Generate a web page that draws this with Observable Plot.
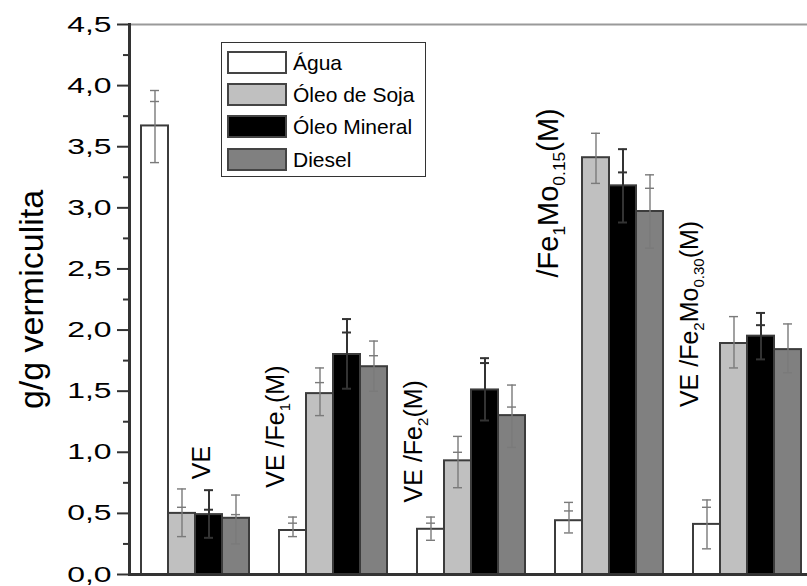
<!DOCTYPE html>
<html><head><meta charset="utf-8">
<script src="https://cdn.jsdelivr.net/npm/d3@7"></script>
<script src="https://cdn.jsdelivr.net/npm/@observablehq/plot@0.6"></script>
<style>
body{margin:0;background:#fff;}
#wrap{position:relative;width:807px;height:586px;overflow:hidden;font-family:"Liberation Sans",Arial,sans-serif;}
#legend{position:absolute;left:221px;top:42px;width:205px;height:135px;border:1px solid #333;background:#fff;box-sizing:border-box;}
.row{position:absolute;left:5px;height:23px;width:195px;}
.sw{position:absolute;left:0;top:0;width:60px;height:23px;border:2px solid #444;box-sizing:border-box;}
.lt{position:absolute;left:66px;top:-2px;font-size:21px;line-height:27px;white-space:nowrap;color:#000;}
</style></head><body><div id="wrap"></div>
<script>
const series = ["Água", "Óleo de Soja", "Óleo Mineral", "Diesel"];
const groups = ["VE", "VE/Fe1(M)", "VE/Fe2(M)", "VE/Fe1Mo0.15(M)", "VE/Fe2Mo0.30(M)"];
const groupLabels = ["VE", "VE /Fe{1}(M)", "VE /Fe{2}(M)", "/Fe{1}Mo{0.15}(M)", "VE /Fe{2}Mo{0.30}(M)"];
const labelStart = [0.78, 0.71, 0.59, 2.43, 1.37];

const aguaMean  = [3.67, 0.36, 0.37, 0.44, 0.41];
const aguaHigh  = [3.96, 0.47, 0.47, 0.59, 0.61];
const aguaLow   = [3.37, 0.31, 0.28, 0.34, 0.21];
const aguaInner = [3.87, 0.42, 0.42, 0.52, 0.55];

const sojaMean  = [0.50, 1.48, 0.93, 3.41, 1.89];
const sojaHigh  = [0.70, 1.69, 1.13, 3.61, 2.11];
const sojaLow   = [0.31, 1.30, 0.71, 3.20, 1.69];
const sojaInner = [0.55, 1.57, 1.00, null, null];

const mineralMean  = [0.49, 1.80, 1.51, 3.18, 1.95];
const mineralHigh  = [0.69, 2.09, 1.77, 3.48, 2.14];
const mineralLow   = [0.30, 1.52, 1.26, 2.88, 1.76];
const mineralInner = [0.53, 1.98, 1.73, 3.29, 2.04];

const dieselMean  = [0.46, 1.70, 1.30, 2.97, 1.84];
const dieselHigh  = [0.65, 1.91, 1.55, 3.27, 2.05];
const dieselLow   = [0.25, 1.50, 1.04, 2.67, 1.65];
const dieselInner = [0.49, 1.79, 1.37, 3.16, null];

const majorTicks = [0, 0.5, 1, 1.5, 2, 2.5, 3, 3.5, 4, 4.5];
const minorTicks = [0.25, 0.75, 1.25, 1.75, 2.25, 2.75, 3.25, 3.75, 4.25];
const yTitle = "g/g vermiculita";

const colors = ["#ffffff", "#c0c0c0", "#000000", "#808080"];

const meanArr = [aguaMean, sojaMean, mineralMean, dieselMean];
const highArr = [aguaHigh, sojaHigh, mineralHigh, dieselHigh];
const lowArr = [aguaLow, sojaLow, mineralLow, dieselLow];
const innerArr = [aguaInner, sojaInner, mineralInner, dieselInner];

const rows = [];
series.forEach((s, si) => groups.forEach((g, gi) => rows.push({
  group: g, series: s, value: meanArr[si][gi], hi: highArr[si][gi], lo: lowArr[si][gi], inner: innerArr[si][gi]
})));
const innerRows = rows.filter(d => d.inner != null);
const labels = groups.map((g, i) => ({group: g, text: groupLabels[i], y: labelStart[i]}));
const errColor = d => d.series === "Óleo Mineral" ? "#333333" : "#7a7a7a";
const errWidth = d => d.series === "Óleo Mineral" ? 2 : 1.4;

const chart = Plot.plot({
  width: 807, height: 586,
  marginLeft: 128, marginRight: -13.5, marginTop: 24, marginBottom: 12,
  style: {fontFamily: "Liberation Sans, Arial, sans-serif", background: "#fff", color: "#000"},
  fx: {domain: groups, padding: 0, axis: null, label: null},
  x: {domain: series, paddingInner: 0, paddingOuter: 0.49, align: 0.4, axis: null},
  y: {domain: [0, 4.5], axis: null},
  color: {domain: series, range: colors},
  marks: [
    Plot.ruleY([4.5], {stroke: "#9a9a9a", strokeWidth: 2}),
    Plot.barY(rows, {fx: "group", x: "series", y: "value", fill: "series", stroke: "#3c3c3c", strokeWidth: 2}),
    Plot.ruleX(rows, {fx: "group", x: "series", y1: "lo", y2: "hi", stroke: errColor, strokeWidth: errWidth}),
    Plot.tickY(rows, {fx: "group", x: "series", y: "hi", stroke: errColor, strokeWidth: errWidth, insetLeft: 9, insetRight: 9}),
    Plot.tickY(rows, {fx: "group", x: "series", y: "lo", stroke: errColor, strokeWidth: errWidth, insetLeft: 9, insetRight: 9}),
    Plot.tickY(innerRows, {fx: "group", x: "series", y: "inner", stroke: errColor, strokeWidth: errWidth, insetLeft: 9, insetRight: 9}),
    Plot.ruleY([0], {stroke: "#333", strokeWidth: 3}),
    Plot.frame({anchor: "left", facetAnchor: "left", stroke: "#333", strokeWidth: 3}),
    Plot.axisY(majorTicks, {tickSize: 12, tickPadding: 6, stroke: "#333", strokeWidth: 2, fontSize: 22, label: null,
      tickFormat: d => d.toFixed(1).replace(".", ",")}),
    Plot.axisY(minorTicks, {tickSize: 6, stroke: "#333", strokeWidth: 2, label: null, tickFormat: () => ""}),
    Plot.text([{group: groups[0]}], {fx: "group", frameAnchor: "left", textAnchor: "middle", text: () => yTitle, rotate: -90, dx: -97, fontSize: 34, fill: "#000"}),
    Plot.text(labels.slice(0, 1), {fx: "group", x: () => series[2], y: "y", text: "text", rotate: -90, textAnchor: "start", dx: -7.5, fontSize: 25, fill: "#000"}),
    Plot.text([labels[1], labels[2], labels[4]], {fx: "group", x: () => series[0], y: "y", text: "text", rotate: -90, textAnchor: "start", dx: -17, fontSize: 25, fill: "#000"}),
    Plot.text([labels[3]], {fx: "group", x: () => series[0], y: "y", text: "text", rotate: -90, textAnchor: "start", dx: -20, fontSize: 29, fill: "#000"})
  ]
});

// subscripts in group labels
const NS = "http://www.w3.org/2000/svg";
chart.querySelectorAll("text").forEach(el => {
  const s = el.textContent;
  if (!s.includes("{")) return;
  el.textContent = "";
  let shifted = false;
  s.split(/(\{[^}]*\})/).filter(p => p).forEach(p => {
    const t = document.createElementNS(NS, "tspan");
    if (p.startsWith("{")) {
      t.textContent = p.slice(1, -1);
      t.setAttribute("font-size", "0.6em");
      t.setAttribute("dy", "0.4em");
      shifted = true;
    } else {
      t.textContent = p;
      if (shifted) { t.setAttribute("dy", "-0.24em"); shifted = false; }
    }
    el.appendChild(t);
  });
});
// widen the horizontal tick labels like the original
chart.querySelectorAll('g[aria-label="y-axis tick label"] text').forEach(el => {
  const tr = el.getAttribute("transform");
  if (tr) el.setAttribute("transform", tr + " scale(1.45,1)");
  else {
    const x = +el.getAttribute("x") || 0, y = +el.getAttribute("y") || 0;
    el.removeAttribute("x"); el.removeAttribute("y");
    el.setAttribute("transform", `translate(${x},${y}) scale(1.45,1)`);
  }
});

const wrap = document.getElementById("wrap");
wrap.appendChild(chart);

const legend = document.createElement("div");
legend.id = "legend";
series.forEach((s, i) => {
  const row = document.createElement("div");
  row.className = "row";
  row.style.top = (8 + i * 32.2) + "px";
  const sw = document.createElement("div");
  sw.className = "sw";
  sw.style.background = colors[i];
  const lt = document.createElement("div");
  lt.className = "lt";
  lt.textContent = s;
  row.appendChild(sw); row.appendChild(lt);
  legend.appendChild(row);
});
wrap.appendChild(legend);
</script>
</body></html>
